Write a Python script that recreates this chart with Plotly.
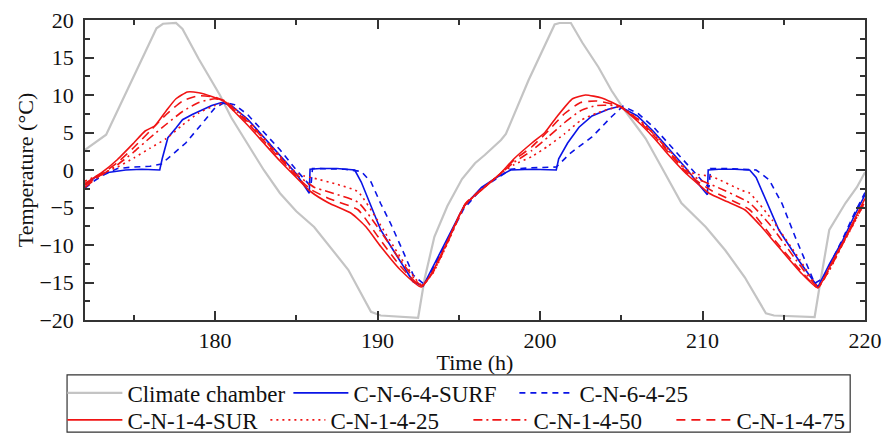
import plotly.graph_objects as go

# Climate chamber air temperature
chamber_t = [172, 173.3, 176.4, 176.8, 177.6, 178, 179, 180.3, 181, 182.2, 183, 184, 185, 186.1, 187,
             188.2, 189.6, 190.2, 192.5, 192.9, 193.5, 194.3, 195.2, 196, 196.6, 197.6, 197.9, 199.3,
             200.9, 201.2, 201.9, 202.6, 203.6, 204.4, 205.2, 206.5, 207.5, 208.7, 210.2, 211.4, 212.6,
             213.9, 214.4, 216.9, 217.2, 217.8, 218.8, 219.5, 220]
chamber_T = [2.7, 4.7, 18.9, 19.5, 19.6, 18.8, 14.8, 10.0, 7.0, 2.9, 0.0, -3.1, -5.5, -7.6, -10.0,
             -13.3, -18.9, -19.4, -19.7, -14.5, -8.9, -4.8, -1.2, 0.9, 2.0, 4.0, 4.8, 12.0,
             19.4, 19.6, 19.6, 17.0, 13.7, 10.6, 8.0, 4.2, 0.3, -4.4, -7.6, -10.7, -14.3,
             -19.1, -19.4, -19.6, -15.6, -8.0, -4.4, -2.3, -0.3]

# C-N-6-4-SURF
surf6_t = [172, 172.6, 173.2, 174, 174.5, 175.5, 176.6, 176.75, 177.1, 177.6, 178, 178.6, 179.2, 179.8,
           180.4, 181, 182, 183, 184, 185, 185.8, 185.85, 186.5, 187.5, 188.6, 189, 189.6, 190.2, 191,
           192.2, 192.8, 193.5, 194.2, 195.3, 196.4, 197.4, 198.2, 199.5, 201.0, 201.15, 201.7, 202.4,
           203.2, 204.2, 204.9, 206, 207, 208, 209, 209.8, 210.3, 210.35, 211, 212, 212.9, 213.3, 214,
           214.7, 216, 216.8, 217.1, 217.8, 218.6, 219.3, 220]
surf6_T = [-2.0, -1.0, -0.4, -0.2, 0.0, 0.1, 0.0, 1.5, 4.3, 5.6, 6.7, 7.4, 8.0, 8.6,
           9.0, 8.6, 6.8, 4.4, 2.0, -0.5, -3.1, 0.1, 0.2, 0.2, 0.0, -1.6, -4.8, -8.0, -10.8,
           -14.9, -15.5, -12.5, -9.5, -4.9, -2.3, -0.9, 0.0, 0.1, 0.0, 1.5, 3.6, 5.7,
           7.2, 8.1, 8.5, 7.2, 5.1, 2.7, 0.2, -2.0, -3.3, 0.0, 0.1, 0.1, 0.0, -1.0, -4.5,
           -8.0, -12.3, -14.7, -15.6, -12.6, -9.5, -6.3, -3.3]

# C-N-6-4-25
d25_6_t = [172, 172.6, 173.2, 174, 175, 176, 176.7, 177.5, 178.2, 179.4, 180, 180.6, 181.2, 182, 183,
           184, 185, 185.9, 186.0, 187, 188, 189, 189.6, 190.2, 190.8, 191.5, 192.2, 192.9, 193.5,
           194.2, 195.3, 196.4, 197.4, 198.2, 199.5, 201.0, 201.9, 203.2, 204.4, 205.1, 206, 207,
           208, 209, 210, 210.4, 210.5, 211.5, 212.5, 213.3, 214.1, 214.9, 215.7, 216.3, 216.9,
           217.4, 218, 218.6, 219.3, 220]
d25_6_T = [-2.4, -1.4, -0.6, 0.2, 0.4, 0.5, 0.8, 2.3, 3.6, 6.7, 8.3, 9.0, 8.7, 7.4, 5.0,
           2.7, 0.0, -2.2, 0.2, 0.2, 0.1, -0.2, -1.6, -4.5, -7.1, -10.5, -14.0, -15.3, -12.8,
           -9.8, -5.2, -2.5, -1.0, 0.1, 0.3, 0.4, 2.3, 4.4, 7.1, 8.5, 7.6, 5.7,
           3.3, 0.9, -1.5, -2.3, 0.2, 0.2, 0.1, 0.0, -1.3, -4.5, -8.9, -12.0, -15.1,
           -14.5, -12.0, -9.3, -6.0, -3.0]

# C-N-1-4-SUR
sur1_t = [172, 173, 174, 175, 175.7, 176.3, 177, 177.6, 178.3, 179, 179.8, 180.6, 181, 182, 183, 184,
          185, 185.9, 187, 188.4, 189.3, 190.2, 191.4, 192.7, 193.4, 194.2, 195.4, 196.5, 197.5, 198.4,
          199.5, 200.3, 201, 202, 202.8, 203.8, 204.9, 206, 207, 208, 209, 209.8, 210.4, 211.5, 212.6,
          213.6, 214.5, 216.1, 217.1, 217.8, 218.6, 219.3, 220]
sur1_T = [-1.8, -0.4, 1.4, 3.6, 5.2, 5.9, 7.9, 9.5, 10.4, 10.3, 9.8, 9.1, 8.2, 6.0, 3.6, 1.2,
          -1.0, -2.9, -4.4, -5.8, -7.6, -10.2, -13.3, -15.6, -13.5, -10.0, -4.6, -2.5, -0.6, 1.5,
          3.6, 5.0, 7.0, 9.5, 10.0, 9.6, 8.5, 6.5, 4.3, 1.8, -0.5, -2.0, -3.1, -4.2, -5.3,
          -7.5, -9.8, -13.8, -15.7, -13.0, -9.8, -6.8, -3.8]

# C-N-1-4-25
d25_1_t = [172, 173, 174, 175, 176, 177, 178, 179, 180, 180.7, 181, 182, 183, 184, 185, 185.5, 186.1,
           187.5, 188.8, 190, 191.4, 192.7, 193.4, 194.2, 195.4, 196.5, 197.5, 198.4, 199.5, 200.5,
           201.5, 202.5, 203.5, 204.9, 206, 207, 208, 209, 209.5, 210.6, 212.4, 212.9, 214.3, 216,
           217.1, 217.8, 218.6, 219.3, 220]
d25_1_T = [-1.5, -0.5, 0.4, 1.6, 2.9, 4.2, 6.0, 7.6, 8.6, 9.0, 8.6, 6.7, 4.3, 1.9, -0.4, -0.8, -1.1,
           -1.9, -2.9, -6.7, -11.6, -15.3, -13.8, -10.3, -4.7, -2.4, -0.6, 0.7, 1.8, 3.2,
           4.8, 6.6, 7.6, 8.4, 6.9, 4.9, 2.5, 0.1, -0.5, -0.9, -2.7, -3.1, -6.7, -12.0,
           -15.5, -13.4, -10.0, -7.2, -4.2]

# C-N-1-4-50
d50_1_t = [172, 173, 174, 175, 176, 177, 178, 179, 180, 180.7, 181, 182, 183, 184, 185, 185.9, 186.1,
           188.8, 190, 191.4, 192.7, 193.4, 194.2, 195.4, 196.5, 197.5, 198.4, 199.5, 200.5, 201.5,
           202.5, 203.5, 204.9, 206, 207, 208, 209, 209.8, 210.6, 212.9, 214.3, 216, 217.1, 217.8,
           218.6, 219.3, 220]
d50_1_T = [-2.0, -0.7, 0.7, 2.4, 4.3, 6.1, 7.8, 9.0, 9.5, 9.1, 8.5, 6.5, 4.1, 1.7, -0.6, -2.0, -2.3,
           -4.3, -7.6, -12.0, -15.4, -13.7, -10.2, -4.6, -2.4, -0.6, 1.0, 2.6, 4.4, 6.3,
           7.9, 8.6, 8.5, 6.8, 4.8, 2.3, -0.1, -1.3, -2.0, -4.4, -7.7, -12.7, -15.6, -13.3,
           -10.0, -7.1, -4.3]

# C-N-1-4-75
d75_1_t = [172, 173, 174, 175, 176, 177, 178, 179, 180, 180.7, 181, 182, 183, 184, 185, 185.9, 187,
           188.8, 190, 191.4, 192.7, 193.4, 194.2, 195.4, 196.5, 197.5, 198.4, 199.5, 200.5, 201.5,
           202.5, 203.5, 204.9, 206, 207, 208, 209, 209.8, 210.6, 212.9, 214.3, 216, 217.1, 217.8,
           218.6, 219.3, 220]
d75_1_T = [-2.3, -0.6, 1.0, 3.0, 5.2, 7.4, 9.2, 9.9, 9.7, 9.1, 8.4, 6.3, 3.9, 1.5, -0.8, -2.6, -3.8,
           -5.3, -8.8, -12.8, -15.5, -13.6, -10.1, -4.5, -2.4, -0.6, 1.3, 3.1, 5.2, 7.5,
           9.0, 9.2, 8.5, 6.7, 4.6, 2.1, -0.3, -1.7, -2.8, -5.3, -9.0, -13.3, -15.7, -13.2,
           -9.9, -7.0, -4.0]

font = "Liberation Serif"
axis_col = "#333333"
red = "#f01414"
blue = "#0a14e6"

fig = go.Figure()
fig.add_trace(go.Scatter(x=chamber_t, y=chamber_T, mode="lines", name="Climate chamber",
                         line=dict(color="#c4c4c4", width=2.2), legend="legend"))
fig.add_trace(go.Scatter(x=surf6_t, y=surf6_T, mode="lines", name="C-N-6-4-SURF",
                         line=dict(color=blue, width=1.6), legend="legend"))
fig.add_trace(go.Scatter(x=d25_6_t, y=d25_6_T, mode="lines", name="C-N-6-4-25",
                         line=dict(color=blue, width=1.6, dash="6px,5px"), legend="legend"))
fig.add_trace(go.Scatter(x=sur1_t, y=sur1_T, mode="lines", name="C-N-1-4-SUR",
                         line=dict(color=red, width=1.6, shape="spline", smoothing=0.5), legend="legend2"))
fig.add_trace(go.Scatter(x=d25_1_t, y=d25_1_T, mode="lines", name="C-N-1-4-25",
                         line=dict(color=red, width=1.6, dash="2px,4px", shape="spline", smoothing=0.5),
                         legend="legend2"))
fig.add_trace(go.Scatter(x=d50_1_t, y=d50_1_T, mode="lines", name="C-N-1-4-50",
                         line=dict(color=red, width=1.6, dash="9px,4px,2px,4px", shape="spline", smoothing=0.5),
                         legend="legend2"))
fig.add_trace(go.Scatter(x=d75_1_t, y=d75_1_T, mode="lines", name="C-N-1-4-75",
                         line=dict(color=red, width=1.6, dash="9px,6px", shape="spline", smoothing=0.5),
                         legend="legend2"))

axis_common = dict(showline=True, linecolor=axis_col, linewidth=1.5, mirror="ticks",
                   ticks="inside", ticklen=9, tickwidth=1.5, tickcolor=axis_col,
                   showgrid=False, zeroline=False, automargin=False,
                   tickfont=dict(family=font, size=22, color="#111111"))

fig.update_xaxes(range=[172, 220], tick0=180, dtick=10,
                 minor=dict(dtick=5, tick0=180, ticks="inside", ticklen=5, tickcolor=axis_col),
                 title=dict(text="Time (h)", font=dict(family=font, size=22, color="#111111"), standoff=2),
                 **axis_common)
fig.update_yaxes(range=[-20, 20], tick0=0, dtick=5, ticklabelstandoff=5,
                 minor=dict(dtick=2.5, ticks="inside", ticklen=5, tickcolor=axis_col),
                 title=dict(text="Temperature (°C)", font=dict(family=font, size=22, color="#111111"), standoff=0),
                 **axis_common)

legend_common = dict(orientation="h", font=dict(family=font, size=23, color="#111111"),
                     bgcolor="rgba(0,0,0,0)", borderwidth=0, itemwidth=55,
                     xanchor="left", yanchor="middle", entrywidthmode="pixels")

fig.update_layout(
    width=893, height=433,
    margin=dict(l=85, r=28, t=20, b=113, autoexpand=False),
    paper_bgcolor="white", plot_bgcolor="white",
    showlegend=True,
    legend=dict(x=-0.029, y=-0.243, entrywidth=156, **legend_common),
    legend2=dict(x=-0.029, y=-0.333, entrywidth=133, **legend_common),
    shapes=[dict(type="rect", xref="paper", yref="paper", x0=-0.023, x1=0.981, y0=-0.374, y1=-0.183,
                 line=dict(color=axis_col, width=1.2))],
)

# page body has a default 8px margin; drop it so the figure fills the window
fig.write_html("out.html", config={"displayModeBar": False},
               post_script="document.body.style.margin='0';")
